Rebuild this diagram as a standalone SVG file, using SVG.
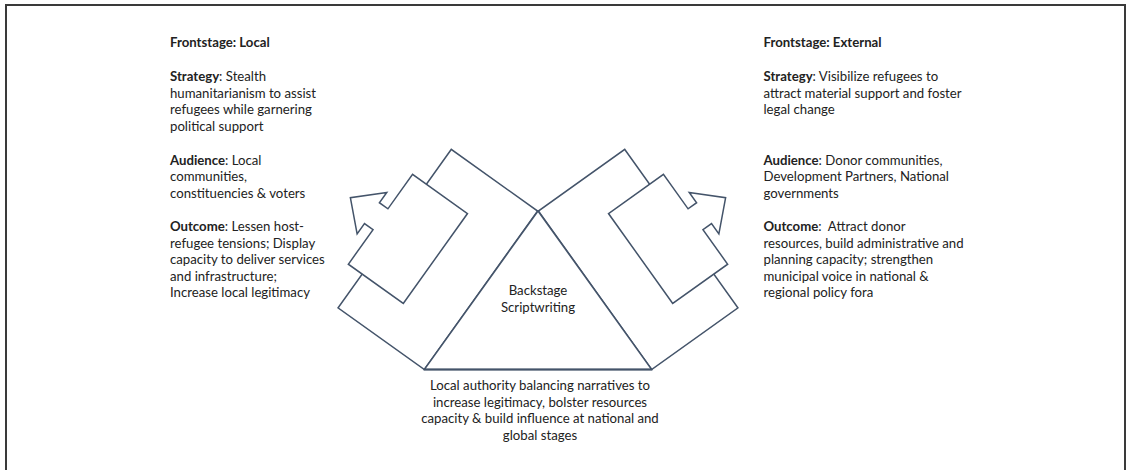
<svg xmlns="http://www.w3.org/2000/svg" width="1128" height="470" viewBox="0 0 1128 470">
  <style>
    .frame { fill: #ffffff; stroke: #3a3a3a; stroke-width: 2; }
    .shape { fill: #ffffff; stroke: #44546a; stroke-width: 1.5; stroke-linejoin: miter; }
    .base { fill: none; stroke: #44546a; stroke-width: 2; }
    text { font-family: Lato, "Liberation Sans", sans-serif; font-size: 13.2px; fill: #222222; }
    .b { font-weight: bold; }
    .mid { text-anchor: middle; }
  </style>
  <defs>
    <!-- Bent arrow drawn in a local frame: x runs along the triangle side, y points outward -->
    <g id="bent-arrow">
      <rect class="shape" x="0" y="-106" width="194.8" height="106"/>
      <polygon class="shape" points="41.5,-55.5 152,-55.5 152,-123 109.6,-123 109.6,-133.5 122.3,-133.5 96.8,-160 71.3,-133.5 84,-133.5 84,-123 41.5,-123"/>
    </g>
  </defs>

  <rect class="frame" x="6" y="5" width="1119" height="480"/>

  <g id="connectors">
    <g id="arrow-local" transform="translate(424.3 369.5) rotate(-54.46)">
      <use href="#bent-arrow"/>
    </g>
    <g id="arrow-external" transform="translate(1076 0) scale(-1 1) translate(424.3 369.5) rotate(-54.46)">
      <use href="#bent-arrow"/>
    </g>
  </g>

  <g id="backstage">
    <polygon class="shape" points="538,211 651.7,369.5 424.3,369.5" fill="none"/>
    <line class="base" x1="424.3" y1="369.5" x2="651.7" y2="369.5"/>
    <text class="mid" x="538" y="295">Backstage</text>
    <text class="mid" x="538" y="312">Scriptwriting</text>
  </g>

  <g id="local-authority">
    <text class="mid" x="540" y="390">Local authority balancing narratives to</text>
    <text class="mid" x="540" y="406.5">increase legitimacy, bolster resources</text>
    <text class="mid" x="540" y="423">capacity &amp; build influence at national and</text>
    <text class="mid" x="540" y="439.5">global stages</text>
  </g>

  <g id="frontstage-local">
    <text class="b" x="170" y="46.5">Frontstage: Local</text>
    <text x="170" y="81"><tspan class="b">Strategy</tspan>: Stealth</text>
    <text x="170" y="97.5">humanitarianism to assist</text>
    <text x="170" y="114">refugees while garnering</text>
    <text x="170" y="130.5">political support</text>
    <text x="170" y="164.5"><tspan class="b">Audience</tspan>: Local</text>
    <text x="170" y="181">communities,</text>
    <text x="170" y="197.5">constituencies &amp; voters</text>
    <text x="170" y="231"><tspan class="b">Outcome</tspan>: Lessen host-</text>
    <text x="170" y="247.5">refugee tensions; Display</text>
    <text x="170" y="264">capacity to deliver services</text>
    <text x="170" y="280.5">and infrastructure;</text>
    <text x="170" y="297">Increase local legitimacy</text>
  </g>

  <g id="frontstage-external">
    <text class="b" x="763.5" y="46.5">Frontstage: External</text>
    <text x="763.5" y="81"><tspan class="b">Strategy</tspan>: Visibilize refugees to</text>
    <text x="763.5" y="97.5">attract material support and foster</text>
    <text x="763.5" y="114">legal change</text>
    <text x="763.5" y="164.5"><tspan class="b">Audience</tspan>: Donor communities,</text>
    <text x="763.5" y="181">Development Partners, National</text>
    <text x="763.5" y="197.5">governments</text>
    <text x="763.5" y="231" xml:space="preserve"><tspan class="b">Outcome</tspan>:  Attract donor</text>
    <text x="763.5" y="247.5">resources, build administrative and</text>
    <text x="763.5" y="264">planning capacity; strengthen</text>
    <text x="763.5" y="280.5">municipal voice in national &amp;</text>
    <text x="763.5" y="297">regional policy fora</text>
  </g>
</svg>
